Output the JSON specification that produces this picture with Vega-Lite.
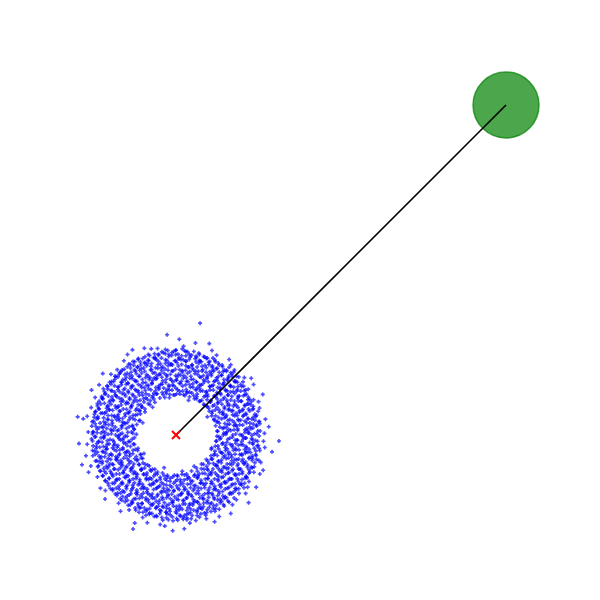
{
"$schema": "https://vega.github.io/schema/vega-lite/v6.json",
"width": 600, "height": 600,
"autosize": {"type": "fit", "contains": "padding"},
"padding": 0,
"background": "white",
"config": {"view": {"stroke": null}},
"encoding": {
  "x": {"field": "x", "type": "quantitative", "scale": {"domain": [-5.333, 12.848], "nice": false, "zero": false}, "axis": null},
  "y": {"field": "y", "type": "quantitative", "scale": {"domain": [-5, 13.182], "nice": false, "zero": false}, "axis": null}
},
"layer": [
{
"data": {"values": [
{"x":-2.53,"y":0.03},{"x":-2.44,"y":-0.05},{"x":-2.27,"y":0.06},{"x":-2.17,"y":-0.01},{"x":-1.96,"y":0.04},{"x":-1.76,"y":-0.06},{"x":-1.69,"y":0.02},{"x":-1.54,"y":-0.03},{"x":-1.31,"y":0.05},{"x":1.24,"y":-0.04},{"x":1.43,"y":0.0},{"x":1.52,"y":0.07},{"x":1.71,"y":-0.07},{"x":1.81,"y":0.03},{"x":2.03,"y":-0.05},{"x":2.22,"y":0.06},{"x":2.30,"y":-0.01},{"x":2.45,"y":0.04},
{"x":-2.52,"y":0.09},{"x":-2.39,"y":0.17},{"x":-2.21,"y":0.11},{"x":-2.10,"y":0.20},{"x":-1.95,"y":0.13},{"x":-1.74,"y":0.15},{"x":-1.65,"y":0.21},{"x":-1.46,"y":0.08},{"x":-1.27,"y":0.18},{"x":1.25,"y":0.12},{"x":1.45,"y":0.22},{"x":1.55,"y":0.10},{"x":1.76,"y":0.16},{"x":1.87,"y":0.19},{"x":2.09,"y":0.08},{"x":2.17,"y":0.14},{"x":2.33,"y":0.21},{"x":2.55,"y":0.12},
{"x":-2.56,"y":-0.12},{"x":-2.34,"y":-0.19},{"x":-2.19,"y":-0.09},{"x":-2.08,"y":-0.17},{"x":-1.88,"y":-0.21},{"x":-1.72,"y":-0.11},{"x":-1.61,"y":-0.15},{"x":-1.40,"y":-0.20},{"x":-1.26,"y":-0.08},{"x":1.23,"y":-0.18},{"x":1.33,"y":-0.13},{"x":1.54,"y":-0.22},{"x":1.63,"y":-0.10},{"x":1.86,"y":-0.16},{"x":1.99,"y":-0.20},{"x":2.11,"y":-0.09},{"x":2.32,"y":-0.14},{"x":2.47,"y":-0.19},
{"x":-2.55,"y":0.27},{"x":-2.45,"y":0.34},{"x":-2.24,"y":0.25},{"x":-2.15,"y":0.31},{"x":-1.93,"y":0.36},{"x":-1.84,"y":0.24},{"x":-1.62,"y":0.29},{"x":-1.53,"y":0.35},{"x":-1.32,"y":0.26},{"x":-1.19,"y":0.32},{"x":1.20,"y":0.28},{"x":1.31,"y":0.36},{"x":1.52,"y":0.23},{"x":1.62,"y":0.33},{"x":1.83,"y":0.27},{"x":1.93,"y":0.31},{"x":2.14,"y":0.37},{"x":2.24,"y":0.25},{"x":2.44,"y":0.30},{"x":2.54,"y":0.34},
{"x":-2.51,"y":-0.33},{"x":-2.40,"y":-0.26},{"x":-2.20,"y":-0.35},{"x":-2.09,"y":-0.28},{"x":-1.89,"y":-0.31},{"x":-1.78,"y":-0.37},{"x":-1.58,"y":-0.24},{"x":-1.48,"y":-0.32},{"x":-1.26,"y":-0.29},{"x":1.19,"y":-0.34},{"x":1.40,"y":-0.27},{"x":1.50,"y":-0.31},{"x":1.71,"y":-0.36},{"x":1.81,"y":-0.25},{"x":2.03,"y":-0.30},{"x":2.12,"y":-0.35},{"x":2.33,"y":-0.28},{"x":2.49,"y":-0.32},
{"x":-2.50,"y":0.42},{"x":-2.40,"y":0.49},{"x":-2.19,"y":0.40},{"x":-2.05,"y":0.47},{"x":-1.94,"y":0.44},{"x":-1.73,"y":0.51},{"x":-1.62,"y":0.39},{"x":-1.42,"y":0.46},{"x":-1.31,"y":0.50},{"x":-1.12,"y":0.43},{"x":1.15,"y":0.48},{"x":1.26,"y":0.41},{"x":1.47,"y":0.52},{"x":1.57,"y":0.44},{"x":1.77,"y":0.38},{"x":1.88,"y":0.47},{"x":2.09,"y":0.42},{"x":2.19,"y":0.50},{"x":2.39,"y":0.45},{"x":2.50,"y":0.40},
{"x":-2.53,"y":-0.47},{"x":-2.42,"y":-0.41},{"x":-2.23,"y":-0.50},{"x":-2.12,"y":-0.44},{"x":-1.92,"y":-0.39},{"x":-1.81,"y":-0.48},{"x":-1.61,"y":-0.43},{"x":-1.50,"y":-0.51},{"x":-1.30,"y":-0.46},{"x":-1.15,"y":-0.40},{"x":1.18,"y":-0.49},{"x":1.29,"y":-0.42},{"x":1.50,"y":-0.47},{"x":1.60,"y":-0.52},{"x":1.80,"y":-0.41},{"x":1.91,"y":-0.45},{"x":2.12,"y":-0.50},{"x":2.22,"y":-0.43},{"x":2.42,"y":-0.48},{"x":2.52,"y":-0.40},
{"x":-2.47,"y":0.63},{"x":-2.37,"y":0.56},{"x":-2.16,"y":0.65},{"x":-2.06,"y":0.59},{"x":-1.85,"y":0.54},{"x":-1.75,"y":0.62},{"x":-1.54,"y":0.57},{"x":-1.44,"y":0.66},{"x":-1.23,"y":0.60},{"x":-1.08,"y":0.64},{"x":1.09,"y":0.66},{"x":1.20,"y":0.58},{"x":1.41,"y":0.63},{"x":1.51,"y":0.55},{"x":1.72,"y":0.61},{"x":1.82,"y":0.66},{"x":2.03,"y":0.57},{"x":2.13,"y":0.62},{"x":2.34,"y":0.54},{"x":2.44,"y":0.60},
{"x":-2.44,"y":-0.58},{"x":-2.33,"y":-0.64},{"x":-2.13,"y":-0.55},{"x":-2.02,"y":-0.61},{"x":-1.82,"y":-0.66},{"x":-1.71,"y":-0.57},{"x":-1.51,"y":-0.62},{"x":-1.40,"y":-0.56},{"x":-1.20,"y":-0.65},{"x":-1.06,"y":-0.59},{"x":1.06,"y":-0.63},{"x":1.17,"y":-0.57},{"x":1.38,"y":-0.54},{"x":1.48,"y":-0.62},{"x":1.69,"y":-0.67},{"x":1.79,"y":-0.58},{"x":2.00,"y":-0.61},{"x":2.10,"y":-0.55},{"x":2.31,"y":-0.64},{"x":2.41,"y":-0.59},
{"x":-2.43,"y":0.72},{"x":-2.33,"y":0.79},{"x":-2.12,"y":0.70},{"x":-2.02,"y":0.77},{"x":-1.81,"y":0.81},{"x":-1.71,"y":0.73},{"x":-1.50,"y":0.78},{"x":-1.40,"y":0.71},{"x":-1.19,"y":0.80},{"x":-1.09,"y":0.74},{"x":-0.94,"y":0.79},{"x":0.99,"y":0.81},{"x":1.10,"y":0.72},{"x":1.30,"y":0.77},{"x":1.41,"y":0.70},{"x":1.61,"y":0.79},{"x":1.72,"y":0.74},{"x":1.92,"y":0.69},{"x":2.03,"y":0.78},{"x":2.23,"y":0.73},{"x":2.34,"y":0.80},
{"x":-2.40,"y":-0.78},{"x":-2.29,"y":-0.71},{"x":-2.09,"y":-0.80},{"x":-1.98,"y":-0.74},{"x":-1.78,"y":-0.69},{"x":-1.67,"y":-0.77},{"x":-1.47,"y":-0.72},{"x":-1.36,"y":-0.81},{"x":-1.16,"y":-0.75},{"x":-1.05,"y":-0.70},{"x":0.96,"y":-0.79},{"x":1.07,"y":-0.73},{"x":1.28,"y":-0.81},{"x":1.38,"y":-0.76},{"x":1.59,"y":-0.70},{"x":1.69,"y":-0.78},{"x":1.90,"y":-0.73},{"x":2.00,"y":-0.80},{"x":2.21,"y":-0.71},{"x":2.31,"y":-0.77},{"x":2.44,"y":-0.74},
{"x":-2.38,"y":0.88},{"x":-2.28,"y":0.94},{"x":-2.07,"y":0.86},{"x":-1.97,"y":0.93},{"x":-1.76,"y":0.84},{"x":-1.66,"y":0.91},{"x":-1.45,"y":0.96},{"x":-1.35,"y":0.87},{"x":-1.14,"y":0.92},{"x":-1.04,"y":0.85},{"x":-0.84,"y":0.95},{"x":0.84,"y":0.93},{"x":0.95,"y":0.86},{"x":1.16,"y":0.91},{"x":1.26,"y":0.97},{"x":1.47,"y":0.85},{"x":1.57,"y":0.90},{"x":1.78,"y":0.94},{"x":1.88,"y":0.83},{"x":2.09,"y":0.89},{"x":2.19,"y":0.95},{"x":2.34,"y":0.87},
{"x":-2.35,"y":-0.93},{"x":-2.24,"y":-0.86},{"x":-2.04,"y":-0.95},{"x":-1.93,"y":-0.88},{"x":-1.73,"y":-0.84},{"x":-1.62,"y":-0.92},{"x":-1.42,"y":-0.87},{"x":-1.31,"y":-0.96},{"x":-1.11,"y":-0.90},{"x":-1.00,"y":-0.85},{"x":-0.81,"y":-0.94},{"x":0.83,"y":-0.89},{"x":0.93,"y":-0.95},{"x":1.13,"y":-0.86},{"x":1.24,"y":-0.92},{"x":1.44,"y":-0.97},{"x":1.55,"y":-0.88},{"x":1.75,"y":-0.84},{"x":1.86,"y":-0.93},{"x":2.06,"y":-0.87},{"x":2.17,"y":-0.91},{"x":2.37,"y":-0.96},
{"x":-2.33,"y":1.02},{"x":-2.22,"y":1.09},{"x":-2.02,"y":1.00},{"x":-1.91,"y":1.07},{"x":-1.71,"y":1.11},{"x":-1.60,"y":1.03},{"x":-1.40,"y":1.08},{"x":-1.29,"y":0.99},{"x":-1.09,"y":1.05},{"x":-0.98,"y":1.10},{"x":-0.78,"y":1.04},{"x":-0.67,"y":1.09},{"x":0.62,"y":1.10},{"x":0.73,"y":1.03},{"x":0.94,"y":1.07},{"x":1.04,"y":1.00},{"x":1.25,"y":1.09},{"x":1.35,"y":1.04},{"x":1.56,"y":0.98},{"x":1.66,"y":1.06},{"x":1.87,"y":1.11},{"x":1.97,"y":1.02},{"x":2.18,"y":1.07},{"x":2.28,"y":1.01},
{"x":-2.30,"y":-1.08},{"x":-2.19,"y":-1.01},{"x":-1.99,"y":-1.10},{"x":-1.88,"y":-1.03},{"x":-1.68,"y":-0.99},{"x":-1.57,"y":-1.07},{"x":-1.37,"y":-1.02},{"x":-1.26,"y":-1.11},{"x":-1.06,"y":-1.05},{"x":-0.95,"y":-1.00},{"x":-0.75,"y":-1.09},{"x":-0.64,"y":-1.04},{"x":0.65,"y":-1.10},{"x":0.77,"y":-1.02},{"x":0.97,"y":-1.07},{"x":1.08,"y":-1.12},{"x":1.28,"y":-1.01},{"x":1.39,"y":-1.06},{"x":1.59,"y":-1.00},{"x":1.70,"y":-1.08},{"x":1.90,"y":-1.03},{"x":2.01,"y":-1.11},{"x":2.21,"y":-1.05},{"x":2.31,"y":-0.99},
{"x":-2.25,"y":1.17},{"x":-2.15,"y":1.24},{"x":-1.94,"y":1.15},{"x":-1.84,"y":1.22},{"x":-1.63,"y":1.26},{"x":-1.53,"y":1.18},{"x":-1.32,"y":1.23},{"x":-1.22,"y":1.14},{"x":-1.01,"y":1.20},{"x":-0.91,"y":1.25},{"x":-0.70,"y":1.19},{"x":-0.60,"y":1.24},{"x":-0.39,"y":1.22},{"x":-0.29,"y":1.26},{"x":-0.08,"y":1.21},{"x":0.02,"y":1.25},{"x":0.23,"y":1.22},{"x":0.33,"y":1.27},{"x":0.54,"y":1.19},{"x":0.64,"y":1.24},{"x":0.85,"y":1.16},{"x":0.95,"y":1.23},{"x":1.16,"y":1.18},{"x":1.26,"y":1.25},{"x":1.47,"y":1.14},{"x":1.57,"y":1.21},{"x":1.78,"y":1.26},{"x":1.88,"y":1.17},{"x":2.09,"y":1.22},{"x":2.19,"y":1.15},
{"x":-2.22,"y":-1.23},{"x":-2.12,"y":-1.16},{"x":-1.91,"y":-1.25},{"x":-1.81,"y":-1.18},{"x":-1.60,"y":-1.14},{"x":-1.50,"y":-1.22},{"x":-1.29,"y":-1.17},{"x":-1.19,"y":-1.26},{"x":-0.98,"y":-1.20},{"x":-0.88,"y":-1.15},{"x":-0.67,"y":-1.24},{"x":-0.57,"y":-1.19},{"x":-0.36,"y":-1.23},{"x":-0.26,"y":-1.27},{"x":-0.05,"y":-1.22},{"x":0.05,"y":-1.25},{"x":0.26,"y":-1.21},{"x":0.36,"y":-1.26},{"x":0.57,"y":-1.20},{"x":0.67,"y":-1.24},{"x":0.88,"y":-1.17},{"x":0.98,"y":-1.22},{"x":1.19,"y":-1.15},{"x":1.29,"y":-1.25},{"x":1.50,"y":-1.19},{"x":1.60,"y":-1.14},{"x":1.81,"y":-1.23},{"x":1.91,"y":-1.18},{"x":2.12,"y":-1.26},{"x":2.21,"y":-1.16},
{"x":-2.17,"y":1.32},{"x":-2.07,"y":1.39},{"x":-1.86,"y":1.30},{"x":-1.76,"y":1.37},{"x":-1.55,"y":1.41},{"x":-1.45,"y":1.33},{"x":-1.24,"y":1.38},{"x":-1.14,"y":1.29},{"x":-0.93,"y":1.35},{"x":-0.83,"y":1.40},{"x":-0.62,"y":1.34},{"x":-0.52,"y":1.39},{"x":-0.31,"y":1.31},{"x":-0.21,"y":1.36},{"x":0.00,"y":1.42},{"x":0.10,"y":1.33},{"x":0.31,"y":1.38},{"x":0.41,"y":1.30},{"x":0.62,"y":1.37},{"x":0.72,"y":1.41},{"x":0.93,"y":1.32},{"x":1.03,"y":1.36},{"x":1.24,"y":1.29},{"x":1.34,"y":1.39},{"x":1.55,"y":1.34},{"x":1.65,"y":1.30},{"x":1.86,"y":1.38},{"x":1.96,"y":1.33},{"x":2.11,"y":1.36},
{"x":-2.14,"y":-1.38},{"x":-2.03,"y":-1.31},{"x":-1.83,"y":-1.40},{"x":-1.72,"y":-1.33},{"x":-1.52,"y":-1.29},{"x":-1.41,"y":-1.37},{"x":-1.21,"y":-1.32},{"x":-1.10,"y":-1.41},{"x":-0.90,"y":-1.35},{"x":-0.79,"y":-1.30},{"x":-0.59,"y":-1.39},{"x":-0.48,"y":-1.34},{"x":-0.28,"y":-1.38},{"x":-0.17,"y":-1.31},{"x":0.03,"y":-1.36},{"x":0.14,"y":-1.42},{"x":0.34,"y":-1.33},{"x":0.45,"y":-1.39},{"x":0.65,"y":-1.30},{"x":0.76,"y":-1.37},{"x":0.96,"y":-1.32},{"x":1.07,"y":-1.40},{"x":1.27,"y":-1.34},{"x":1.38,"y":-1.29},{"x":1.58,"y":-1.38},{"x":1.69,"y":-1.33},{"x":1.89,"y":-1.41},{"x":2.00,"y":-1.35},{"x":2.15,"y":-1.30},
{"x":-2.07,"y":1.47},{"x":-1.97,"y":1.54},{"x":-1.76,"y":1.45},{"x":-1.66,"y":1.52},{"x":-1.45,"y":1.56},{"x":-1.35,"y":1.48},{"x":-1.14,"y":1.53},{"x":-1.04,"y":1.44},{"x":-0.83,"y":1.50},{"x":-0.73,"y":1.55},{"x":-0.52,"y":1.49},{"x":-0.42,"y":1.54},{"x":-0.21,"y":1.46},{"x":-0.11,"y":1.51},{"x":0.10,"y":1.57},{"x":0.20,"y":1.48},{"x":0.41,"y":1.53},{"x":0.51,"y":1.45},{"x":0.72,"y":1.52},{"x":0.82,"y":1.56},{"x":1.03,"y":1.47},{"x":1.13,"y":1.51},{"x":1.34,"y":1.44},{"x":1.44,"y":1.54},{"x":1.65,"y":1.49},{"x":1.75,"y":1.45},{"x":1.96,"y":1.53},{"x":2.05,"y":1.48},
{"x":-2.04,"y":-1.53},{"x":-1.93,"y":-1.46},{"x":-1.73,"y":-1.55},{"x":-1.62,"y":-1.48},{"x":-1.42,"y":-1.44},{"x":-1.31,"y":-1.52},{"x":-1.11,"y":-1.47},{"x":-1.00,"y":-1.56},{"x":-0.80,"y":-1.50},{"x":-0.69,"y":-1.45},{"x":-0.49,"y":-1.54},{"x":-0.38,"y":-1.49},{"x":-0.18,"y":-1.53},{"x":-0.07,"y":-1.46},{"x":0.13,"y":-1.51},{"x":0.24,"y":-1.57},{"x":0.44,"y":-1.48},{"x":0.55,"y":-1.54},{"x":0.75,"y":-1.45},{"x":0.86,"y":-1.52},{"x":1.06,"y":-1.47},{"x":1.17,"y":-1.55},{"x":1.37,"y":-1.49},{"x":1.48,"y":-1.44},{"x":1.68,"y":-1.53},{"x":1.79,"y":-1.48},{"x":1.99,"y":-1.52},{"x":2.08,"y":-1.46},
{"x":-1.95,"y":1.62},{"x":-1.85,"y":1.69},{"x":-1.64,"y":1.60},{"x":-1.54,"y":1.67},{"x":-1.33,"y":1.71},{"x":-1.23,"y":1.63},{"x":-1.02,"y":1.68},{"x":-0.92,"y":1.59},{"x":-0.71,"y":1.65},{"x":-0.61,"y":1.70},{"x":-0.40,"y":1.64},{"x":-0.30,"y":1.69},{"x":-0.09,"y":1.61},{"x":0.01,"y":1.66},{"x":0.22,"y":1.72},{"x":0.32,"y":1.63},{"x":0.53,"y":1.68},{"x":0.63,"y":1.60},{"x":0.84,"y":1.67},{"x":0.94,"y":1.71},{"x":1.15,"y":1.62},{"x":1.25,"y":1.66},{"x":1.46,"y":1.59},{"x":1.56,"y":1.69},{"x":1.77,"y":1.64},{"x":1.86,"y":1.60},
{"x":-1.92,"y":-1.68},{"x":-1.81,"y":-1.61},{"x":-1.61,"y":-1.70},{"x":-1.50,"y":-1.63},{"x":-1.30,"y":-1.59},{"x":-1.19,"y":-1.67},{"x":-0.99,"y":-1.62},{"x":-0.88,"y":-1.71},{"x":-0.68,"y":-1.65},{"x":-0.57,"y":-1.60},{"x":-0.37,"y":-1.69},{"x":-0.26,"y":-1.64},{"x":-0.06,"y":-1.68},{"x":0.05,"y":-1.61},{"x":0.25,"y":-1.66},{"x":0.36,"y":-1.72},{"x":0.56,"y":-1.63},{"x":0.67,"y":-1.69},{"x":0.87,"y":-1.60},{"x":0.98,"y":-1.67},{"x":1.18,"y":-1.62},{"x":1.29,"y":-1.70},{"x":1.49,"y":-1.64},{"x":1.60,"y":-1.59},{"x":1.80,"y":-1.68},{"x":1.90,"y":-1.63},
{"x":-1.82,"y":1.77},{"x":-1.72,"y":1.84},{"x":-1.51,"y":1.75},{"x":-1.41,"y":1.82},{"x":-1.20,"y":1.86},{"x":-1.10,"y":1.78},{"x":-0.89,"y":1.83},{"x":-0.79,"y":1.74},{"x":-0.58,"y":1.80},{"x":-0.48,"y":1.85},{"x":-0.27,"y":1.79},{"x":-0.17,"y":1.84},{"x":0.04,"y":1.76},{"x":0.14,"y":1.81},{"x":0.35,"y":1.87},{"x":0.45,"y":1.78},{"x":0.66,"y":1.83},{"x":0.76,"y":1.75},{"x":0.97,"y":1.82},{"x":1.07,"y":1.86},{"x":1.28,"y":1.77},{"x":1.38,"y":1.81},{"x":1.59,"y":1.74},{"x":1.69,"y":1.84},{"x":1.83,"y":1.78},
{"x":-1.79,"y":-1.83},{"x":-1.68,"y":-1.76},{"x":-1.48,"y":-1.85},{"x":-1.37,"y":-1.78},{"x":-1.17,"y":-1.74},{"x":-1.06,"y":-1.82},{"x":-0.86,"y":-1.77},{"x":-0.75,"y":-1.86},{"x":-0.55,"y":-1.80},{"x":-0.44,"y":-1.75},{"x":-0.24,"y":-1.84},{"x":-0.13,"y":-1.79},{"x":0.07,"y":-1.83},{"x":0.18,"y":-1.76},{"x":0.38,"y":-1.81},{"x":0.49,"y":-1.87},{"x":0.69,"y":-1.78},{"x":0.80,"y":-1.84},{"x":1.00,"y":-1.75},{"x":1.11,"y":-1.82},{"x":1.31,"y":-1.77},{"x":1.42,"y":-1.85},{"x":1.62,"y":-1.79},{"x":1.73,"y":-1.74},
{"x":-1.67,"y":1.92},{"x":-1.57,"y":1.99},{"x":-1.36,"y":1.90},{"x":-1.26,"y":1.97},{"x":-1.05,"y":2.01},{"x":-0.95,"y":1.93},{"x":-0.74,"y":1.98},{"x":-0.64,"y":1.89},{"x":-0.43,"y":1.95},{"x":-0.33,"y":2.00},{"x":-0.12,"y":1.94},{"x":-0.02,"y":1.99},{"x":0.19,"y":1.91},{"x":0.29,"y":1.96},{"x":0.50,"y":2.02},{"x":0.60,"y":1.93},{"x":0.81,"y":1.98},{"x":0.91,"y":1.90},{"x":1.12,"y":1.97},{"x":1.22,"y":2.01},{"x":1.43,"y":1.92},{"x":1.53,"y":1.96},{"x":1.66,"y":1.89},
{"x":-1.64,"y":-1.98},{"x":-1.53,"y":-1.91},{"x":-1.33,"y":-2.00},{"x":-1.22,"y":-1.93},{"x":-1.02,"y":-1.89},{"x":-0.91,"y":-1.97},{"x":-0.71,"y":-1.92},{"x":-0.60,"y":-2.01},{"x":-0.40,"y":-1.95},{"x":-0.29,"y":-1.90},{"x":-0.09,"y":-1.99},{"x":0.02,"y":-1.94},{"x":0.22,"y":-1.98},{"x":0.33,"y":-1.91},{"x":0.53,"y":-1.96},{"x":0.64,"y":-2.02},{"x":0.84,"y":-1.93},{"x":0.95,"y":-1.99},{"x":1.15,"y":-1.90},{"x":1.26,"y":-1.97},{"x":1.46,"y":-1.92},{"x":1.57,"y":-2.00},
{"x":-1.48,"y":2.07},{"x":-1.38,"y":2.14},{"x":-1.17,"y":2.05},{"x":-1.07,"y":2.12},{"x":-0.86,"y":2.16},{"x":-0.76,"y":2.08},{"x":-0.55,"y":2.13},{"x":-0.45,"y":2.04},{"x":-0.24,"y":2.10},{"x":-0.14,"y":2.15},{"x":0.07,"y":2.09},{"x":0.17,"y":2.14},{"x":0.38,"y":2.06},{"x":0.48,"y":2.11},{"x":0.69,"y":2.17},{"x":0.79,"y":2.08},{"x":1.00,"y":2.13},{"x":1.10,"y":2.05},{"x":1.31,"y":2.12},{"x":1.41,"y":2.07},
{"x":-1.45,"y":-2.13},{"x":-1.34,"y":-2.06},{"x":-1.14,"y":-2.15},{"x":-1.03,"y":-2.08},{"x":-0.83,"y":-2.04},{"x":-0.72,"y":-2.12},{"x":-0.52,"y":-2.07},{"x":-0.41,"y":-2.16},{"x":-0.21,"y":-2.10},{"x":-0.10,"y":-2.05},{"x":0.10,"y":-2.14},{"x":0.21,"y":-2.09},{"x":0.41,"y":-2.13},{"x":0.52,"y":-2.06},{"x":0.72,"y":-2.11},{"x":0.83,"y":-2.17},{"x":1.03,"y":-2.08},{"x":1.14,"y":-2.14},{"x":1.34,"y":-2.05},{"x":1.44,"y":-2.11},
{"x":-1.25,"y":2.22},{"x":-1.15,"y":2.29},{"x":-0.94,"y":2.20},{"x":-0.84,"y":2.27},{"x":-0.63,"y":2.31},{"x":-0.53,"y":2.23},{"x":-0.32,"y":2.28},{"x":-0.22,"y":2.19},{"x":-0.01,"y":2.25},{"x":0.09,"y":2.30},{"x":0.30,"y":2.24},{"x":0.40,"y":2.29},{"x":0.61,"y":2.21},{"x":0.71,"y":2.26},{"x":0.92,"y":2.32},{"x":1.02,"y":2.23},{"x":1.18,"y":2.27},
{"x":-1.22,"y":-2.28},{"x":-1.11,"y":-2.21},{"x":-0.91,"y":-2.30},{"x":-0.80,"y":-2.23},{"x":-0.60,"y":-2.19},{"x":-0.49,"y":-2.27},{"x":-0.29,"y":-2.22},{"x":-0.18,"y":-2.31},{"x":0.02,"y":-2.25},{"x":0.13,"y":-2.20},{"x":0.33,"y":-2.29},{"x":0.44,"y":-2.24},{"x":0.64,"y":-2.28},{"x":0.75,"y":-2.21},{"x":0.95,"y":-2.26},{"x":1.06,"y":-2.32},{"x":1.20,"y":-2.23},
{"x":-0.94,"y":2.37},{"x":-0.84,"y":2.44},{"x":-0.63,"y":2.35},{"x":-0.53,"y":2.42},{"x":-0.32,"y":2.46},{"x":-0.22,"y":2.38},{"x":-0.01,"y":2.43},{"x":0.09,"y":2.34},{"x":0.30,"y":2.40},{"x":0.40,"y":2.45},{"x":0.61,"y":2.39},{"x":0.71,"y":2.44},{"x":0.87,"y":2.36},
{"x":-0.91,"y":-2.43},{"x":-0.80,"y":-2.36},{"x":-0.60,"y":-2.45},{"x":-0.49,"y":-2.38},{"x":-0.29,"y":-2.34},{"x":-0.18,"y":-2.42},{"x":0.02,"y":-2.37},{"x":0.13,"y":-2.46},{"x":0.33,"y":-2.40},{"x":0.44,"y":-2.35},{"x":0.64,"y":-2.44},{"x":0.75,"y":-2.39},{"x":0.90,"y":-2.43},
{"x":-0.43,"y":2.52},{"x":-0.32,"y":2.59},{"x":-0.12,"y":2.50},{"x":-0.01,"y":2.57},{"x":0.19,"y":2.61},{"x":0.30,"y":2.53},
{"x":-0.40,"y":-2.58},{"x":-0.29,"y":-2.51},{"x":-0.09,"y":-2.60},{"x":0.02,"y":-2.53},{"x":0.22,"y":-2.49},{"x":0.33,"y":-2.57},{"x":0.46,"y":-2.54},
{"x":2.71,"y":0.48},{"x":2.63,"y":1.23},{"x":2.07,"y":1.74},{"x":1.61,"y":2.29},{"x":1.01,"y":2.77},{"x":0.23,"y":2.69},{"x":0.73,"y":3.39},{"x":-0.27,"y":3.04},{"x":-0.96,"y":2.63},{"x":-1.58,"y":2.25},{"x":-2.22,"y":1.86},{"x":-2.45,"y":1.14},{"x":-2.81,"y":0.49},{"x":-2.94,"y":-0.26},{"x":-2.58,"y":-0.94},{"x":-2.29,"y":-1.61},{"x":-1.74,"y":-2.07},{"x":-1.25,"y":-2.67},{"x":-0.48,"y":-2.71},{"x":0.25,"y":-2.84},{"x":0.92,"y":-2.54},{"x":1.66,"y":-2.38},{"x":2.11,"y":-1.77},{"x":2.54,"y":-1.18},{"x":2.91,"y":-0.51},
{"x":2.68,"y":0.05},{"x":2.53,"y":0.82},{"x":2.35,"y":1.53},{"x":1.77,"y":1.97},{"x":1.23,"y":2.42},{"x":0.59,"y":2.79},{"x":-0.56,"y":2.62},{"x":-1.32,"y":2.58},{"x":-1.78,"y":1.98},{"x":-2.33,"y":1.52},{"x":-2.57,"y":0.83},{"x":-2.66,"y":0.09},{"x":-2.73,"y":-0.63},{"x":-2.38,"y":-1.27},{"x":-2.15,"y":-1.94},{"x":-1.42,"y":-2.27},{"x":-0.87,"y":-2.66},{"x":-0.10,"y":-2.90},{"x":0.60,"y":-2.59},{"x":1.31,"y":-2.47},{"x":1.83,"y":-1.96},{"x":2.43,"y":-1.58},{"x":2.57,"y":-0.83},{"x":2.65,"y":-0.19},
{"x":3.12,"y":-0.18},{"x":-2.98,"y":0.55},{"x":-1.30,"y":-2.85},{"x":2.20,"y":-2.05},{"x":-2.85,"y":-0.90},
{"x":0.95,"y":0.55},{"x":-0.20,"y":1.13},{"x":-1.01,"y":0.37},{"x":-0.97,"y":-0.56},{"x":-0.36,"y":-0.99},{"x":0.55,"y":-0.95},{"x":1.08,"y":-0.39},{"x":0.38,"y":1.05},{"x":-0.71,"y":0.84},{"x":0.19,"y":-1.10},
{"x":2.81,"y":0.25},{"x":2.50,"y":1.01},{"x":2.28,"y":1.72},{"x":1.66,"y":2.13},{"x":1.09,"y":2.56},{"x":0.10,"y":2.90},{"x":-0.75,"y":2.61},{"x":-1.47,"y":2.44},{"x":-1.97,"y":1.84},{"x":-2.56,"y":1.36},{"x":-2.69,"y":0.57},{"x":-2.69,"y":-0.28},{"x":-2.65,"y":-1.13},{"x":-2.14,"y":-1.68},{"x":-1.68,"y":-2.31},{"x":-1.01,"y":-2.50},{"x":-0.34,"y":-2.76},{"x":0.42,"y":-2.67},{"x":1.17,"y":-2.63},{"x":1.71,"y":-2.11},{"x":2.17,"y":-1.58},{"x":2.64,"y":-1.07},{"x":2.69,"y":-0.38},
{"x":0.12,"y":1.24},{"x":0.05,"y":1.37},{"x":0.14,"y":1.56},{"x":0.01,"y":1.67},{"x":0.08,"y":1.84},{"x":0.11,"y":1.98},{"x":0.03,"y":2.19},{"x":0.15,"y":2.29},{"x":0.06,"y":2.45},{"x":0.0,"y":2.57},
{"x":0.04,"y":-1.22},{"x":0.13,"y":-1.35},{"x":0.02,"y":-1.54},{"x":0.10,"y":-1.65},{"x":0.14,"y":-1.82},{"x":0.07,"y":-1.96},{"x":0.01,"y":-2.17},{"x":0.09,"y":-2.27},{"x":0.12,"y":-2.43},{"x":0.05,"y":-2.58},
{"x":-0.03,"y":1.21},{"x":-0.12,"y":1.36},{"x":-0.06,"y":1.49},{"x":-0.14,"y":1.66},{"x":-0.01,"y":1.80},{"x":-0.09,"y":1.94},{"x":-0.11,"y":2.12},{"x":-0.04,"y":2.25},{"x":-0.13,"y":2.41},{"x":-0.07,"y":2.53},
{"x":-0.10,"y":-1.27},{"x":-0.02,"y":-1.41},{"x":-0.13,"y":-1.58},{"x":-0.07,"y":-1.70},{"x":-0.04,"y":-1.87},{"x":-0.12,"y":-2.04},{"x":-0.08,"y":-2.15},{"x":-0.01,"y":-2.33},{"x":-0.11,"y":-2.48},
{"x":0.27,"y":1.20},{"x":0.20,"y":1.33},{"x":0.29,"y":1.52},{"x":0.16,"y":1.63},{"x":0.24,"y":1.80},{"x":0.19,"y":1.95},{"x":0.30,"y":2.10},{"x":0.22,"y":2.28},{"x":0.17,"y":2.40},{"x":0.26,"y":2.55},
{"x":0.18,"y":-1.19},{"x":0.25,"y":-1.36},{"x":0.21,"y":-1.47},{"x":0.29,"y":-1.64},{"x":0.16,"y":-1.78},{"x":0.23,"y":-1.99},{"x":0.28,"y":-2.09},{"x":0.19,"y":-2.25},{"x":0.26,"y":-2.43},{"x":0.22,"y":-2.55},
{"x":-0.19,"y":1.23},{"x":-0.27,"y":1.38},{"x":-0.22,"y":1.51},{"x":-0.17,"y":1.70},{"x":-0.29,"y":1.82},{"x":-0.24,"y":1.96},{"x":-0.16,"y":2.13},{"x":-0.28,"y":2.26},{"x":-0.21,"y":2.44},{"x":-0.25,"y":2.56},
{"x":-0.26,"y":-1.22},{"x":-0.18,"y":-1.40},{"x":-0.29,"y":-1.52},{"x":-0.21,"y":-1.68},{"x":-0.24,"y":-1.81},{"x":-0.17,"y":-1.93},{"x":-0.28,"y":-2.14},{"x":-0.20,"y":-2.24},{"x":-0.27,"y":-2.39},{"x":-0.23,"y":-2.57},
{"x":0.41,"y":1.16},{"x":0.33,"y":1.31},{"x":0.44,"y":1.45},{"x":0.36,"y":1.62},{"x":0.31,"y":1.74},{"x":0.42,"y":1.92},{"x":0.38,"y":2.05},{"x":0.30,"y":2.23},{"x":0.43,"y":2.36},{"x":0.35,"y":2.52},
{"x":0.32,"y":-1.18},{"x":0.40,"y":-1.30},{"x":0.35,"y":-1.49},{"x":0.44,"y":-1.60},{"x":0.37,"y":-1.77},{"x":0.31,"y":-1.91},{"x":0.42,"y":-2.08},{"x":0.36,"y":-2.20},{"x":0.39,"y":-2.38},{"x":0.33,"y":-2.51},
{"x":-0.34,"y":1.14},{"x":-0.42,"y":1.29},{"x":-0.37,"y":1.42},{"x":-0.31,"y":1.59},{"x":-0.43,"y":1.75},{"x":-0.36,"y":1.87},{"x":-0.40,"y":2.06},{"x":-0.32,"y":2.17},{"x":-0.44,"y":2.33},{"x":-0.38,"y":2.49},
{"x":-0.41,"y":-1.15},{"x":-0.33,"y":-1.33},{"x":-0.44,"y":-1.44},{"x":-0.38,"y":-1.61},{"x":-0.30,"y":-1.73},{"x":-0.42,"y":-1.89},{"x":-0.35,"y":-2.05},{"x":-0.39,"y":-2.19},{"x":-0.31,"y":-2.34},{"x":-0.43,"y":-2.50},
{"x":0.56,"y":1.10},{"x":0.48,"y":1.27},{"x":0.59,"y":1.38},{"x":0.51,"y":1.55},{"x":0.46,"y":1.69},{"x":0.57,"y":1.86},{"x":0.53,"y":1.97},{"x":0.49,"y":2.13},{"x":0.58,"y":2.31},{"x":0.47,"y":2.42},{"x":0.54,"y":2.53},
{"x":0.47,"y":-1.09},{"x":0.55,"y":-1.24},{"x":0.50,"y":-1.40},{"x":0.59,"y":-1.53},{"x":0.52,"y":-1.68},{"x":0.46,"y":-1.82},{"x":0.57,"y":-2.01},{"x":0.51,"y":-2.12},{"x":0.54,"y":-2.28},{"x":0.49,"y":-2.44},
{"x":-0.49,"y":1.12},{"x":-0.57,"y":1.25},{"x":-0.52,"y":1.43},{"x":-0.46,"y":1.54},{"x":-0.58,"y":1.72},{"x":-0.51,"y":1.83},{"x":-0.55,"y":2.02},{"x":-0.47,"y":2.15},{"x":-0.59,"y":2.28},{"x":-0.53,"y":2.45},
{"x":-0.56,"y":-1.12},{"x":-0.48,"y":-1.28},{"x":-0.59,"y":-1.39},{"x":-0.53,"y":-1.57},{"x":-0.45,"y":-1.71},{"x":-0.57,"y":-1.85},{"x":-0.50,"y":-1.98},{"x":-0.54,"y":-2.16},{"x":-0.46,"y":-2.30},{"x":-0.58,"y":-2.47},
{"x":0.71,"y":1.02},{"x":0.63,"y":1.16},{"x":0.74,"y":1.33},{"x":0.66,"y":1.45},{"x":0.61,"y":1.61},{"x":0.72,"y":1.76},{"x":0.68,"y":1.93},{"x":0.64,"y":2.06},{"x":0.73,"y":2.24},{"x":0.62,"y":2.35},{"x":0.69,"y":2.48},
{"x":0.62,"y":-1.00},{"x":0.70,"y":-1.18},{"x":0.65,"y":-1.29},{"x":0.74,"y":-1.46},{"x":0.67,"y":-1.59},{"x":0.61,"y":-1.77},{"x":0.72,"y":-1.90},{"x":0.66,"y":-2.04},{"x":0.69,"y":-2.21},{"x":0.64,"y":-2.33},{"x":0.71,"y":-2.49},
{"x":-0.64,"y":0.99},{"x":-0.72,"y":1.14},{"x":-0.67,"y":1.27},{"x":-0.61,"y":1.44},{"x":-0.73,"y":1.58},{"x":-0.66,"y":1.73},{"x":-0.70,"y":1.88},{"x":-0.62,"y":2.04},{"x":-0.74,"y":2.17},{"x":-0.68,"y":2.34},{"x":-0.65,"y":2.46},
{"x":-0.71,"y":-1.04},{"x":-0.63,"y":-1.17},{"x":-0.74,"y":-1.33},{"x":-0.68,"y":-1.48},{"x":-0.60,"y":-1.62},{"x":-0.72,"y":-1.79},{"x":-0.65,"y":-1.91},{"x":-0.69,"y":-2.08},{"x":-0.61,"y":-2.22},{"x":-0.73,"y":-2.38},{"x":-0.66,"y":-2.47},
{"x":0.86,"y":0.90},{"x":0.78,"y":1.05},{"x":0.89,"y":1.19},{"x":0.81,"y":1.34},{"x":0.76,"y":1.51},{"x":0.87,"y":1.63},{"x":0.83,"y":1.80},{"x":0.79,"y":1.94},{"x":0.88,"y":2.11},{"x":0.77,"y":2.22},{"x":0.84,"y":2.38},
{"x":0.77,"y":-0.88},{"x":0.85,"y":-1.04},{"x":0.80,"y":-1.16},{"x":0.89,"y":-1.33},{"x":0.82,"y":-1.47},{"x":0.76,"y":-1.62},{"x":0.87,"y":-1.78},{"x":0.81,"y":-1.93},{"x":0.84,"y":-2.06},{"x":0.79,"y":-2.24},{"x":0.86,"y":-2.36},
{"x":-0.79,"y":0.92},{"x":-0.87,"y":1.08},{"x":-0.82,"y":1.21},{"x":-0.76,"y":1.37},{"x":-0.88,"y":1.50},{"x":-0.81,"y":1.68},{"x":-0.85,"y":1.79},{"x":-0.77,"y":1.97},{"x":-0.89,"y":2.10},{"x":-0.83,"y":2.25},{"x":-0.80,"y":2.41},
{"x":-0.86,"y":-0.91},{"x":-0.78,"y":-1.06},{"x":-0.89,"y":-1.22},{"x":-0.83,"y":-1.35},{"x":-0.75,"y":-1.52},{"x":-0.87,"y":-1.64},{"x":-0.80,"y":-1.81},{"x":-0.84,"y":-1.96},{"x":-0.76,"y":-2.11},{"x":-0.88,"y":-2.26},{"x":-0.81,"y":-2.40},
{"x":1.01,"y":0.72},{"x":0.93,"y":0.88},{"x":1.04,"y":1.01},{"x":0.96,"y":1.17},{"x":0.91,"y":1.30},{"x":1.02,"y":1.47},{"x":0.98,"y":1.61},{"x":0.94,"y":1.75},{"x":1.03,"y":1.92},{"x":0.92,"y":2.04},{"x":0.99,"y":2.20},{"x":0.95,"y":2.33},
{"x":0.92,"y":-0.74},{"x":1.00,"y":-0.86},{"x":0.95,"y":-1.03},{"x":1.04,"y":-1.15},{"x":0.97,"y":-1.32},{"x":0.91,"y":-1.46},{"x":1.02,"y":-1.59},{"x":0.96,"y":-1.77},{"x":0.99,"y":-1.89},{"x":0.94,"y":-2.05},{"x":1.01,"y":-2.19},{"x":0.93,"y":-2.35},
{"x":-0.94,"y":0.70},{"x":-1.02,"y":0.85},{"x":-0.97,"y":1.00},{"x":-0.91,"y":1.13},{"x":-1.03,"y":1.29},{"x":-0.96,"y":1.44},{"x":-1.00,"y":1.58},{"x":-0.92,"y":1.74},{"x":-1.04,"y":1.88},{"x":-0.98,"y":2.03},{"x":-0.95,"y":2.17},{"x":-1.01,"y":2.32},
{"x":-1.01,"y":-0.71},{"x":-0.93,"y":-0.89},{"x":-1.04,"y":-1.02},{"x":-0.98,"y":-1.18},{"x":-0.90,"y":-1.31},{"x":-1.02,"y":-1.49},{"x":-0.95,"y":-1.60},{"x":-0.99,"y":-1.76},{"x":-0.91,"y":-1.91},{"x":-1.03,"y":-2.07},{"x":-0.96,"y":-2.21},{"x":-1.00,"y":-2.34},
{"x":1.16,"y":0.45},{"x":1.08,"y":0.58},{"x":1.19,"y":0.76},{"x":1.11,"y":0.88},{"x":1.06,"y":1.05},{"x":1.17,"y":1.18},{"x":1.13,"y":1.36},{"x":1.09,"y":1.49},{"x":1.18,"y":1.64},{"x":1.07,"y":1.80},{"x":1.14,"y":1.93},{"x":1.10,"y":2.09},{"x":1.19,"y":2.22},{"x":1.12,"y":2.33},
{"x":1.07,"y":-0.43},{"x":1.15,"y":-0.61},{"x":1.10,"y":-0.73},{"x":1.19,"y":-0.91},{"x":1.12,"y":-1.03},{"x":1.06,"y":-1.20},{"x":1.17,"y":-1.33},{"x":1.11,"y":-1.47},{"x":1.14,"y":-1.65},{"x":1.09,"y":-1.77},{"x":1.16,"y":-1.94},{"x":1.08,"y":-2.06},{"x":1.13,"y":-2.23},{"x":1.18,"y":-2.31},
{"x":-1.09,"y":0.44},{"x":-1.17,"y":0.62},{"x":-1.12,"y":0.74},{"x":-1.06,"y":0.91},{"x":-1.18,"y":1.03},{"x":-1.11,"y":1.21},{"x":-1.15,"y":1.34},{"x":-1.07,"y":1.50},{"x":-1.19,"y":1.63},{"x":-1.13,"y":1.78},{"x":-1.10,"y":1.96},{"x":-1.16,"y":2.07},{"x":-1.08,"y":2.21},{"x":-1.14,"y":2.32},
{"x":-1.16,"y":-0.47},{"x":-1.08,"y":-0.59},{"x":-1.19,"y":-0.77},{"x":-1.13,"y":-0.89},{"x":-1.05,"y":-1.06},{"x":-1.17,"y":-1.19},{"x":-1.10,"y":-1.35},{"x":-1.14,"y":-1.51},{"x":-1.06,"y":-1.62},{"x":-1.18,"y":-1.81},{"x":-1.11,"y":-1.92},{"x":-1.15,"y":-2.08},{"x":-1.07,"y":-2.20},{"x":-1.12,"y":-2.34},
{"x":1.31,"y":-2.25},{"x":1.23,"y":-2.12},{"x":1.34,"y":-1.95},{"x":1.26,"y":-1.84},{"x":1.21,"y":-1.66},{"x":1.32,"y":-1.52},{"x":1.28,"y":-1.39},{"x":1.24,"y":-1.21},{"x":1.33,"y":-1.08},{"x":1.22,"y":-0.93},{"x":1.29,"y":-0.79},{"x":1.25,"y":-0.62},{"x":1.34,"y":-0.51},{"x":1.27,"y":-0.33},{"x":1.21,"y":-0.19},{"x":1.30,"y":-0.05},{"x":1.26,"y":0.11},{"x":1.33,"y":0.24},{"x":1.23,"y":0.40},{"x":1.29,"y":0.53},{"x":1.32,"y":0.69},{"x":1.24,"y":0.84},{"x":1.28,"y":0.98},{"x":1.21,"y":1.15},{"x":1.34,"y":1.27},{"x":1.26,"y":1.44},{"x":1.30,"y":1.57},{"x":1.23,"y":1.73},{"x":1.31,"y":1.90},{"x":1.25,"y":2.02},{"x":1.28,"y":2.18},
{"x":-1.24,"y":-2.21},{"x":-1.32,"y":-2.05},{"x":-1.27,"y":-1.93},{"x":-1.21,"y":-1.76},{"x":-1.33,"y":-1.63},{"x":-1.26,"y":-1.45},{"x":-1.30,"y":-1.33},{"x":-1.22,"y":-1.17},{"x":-1.34,"y":-1.02},{"x":-1.28,"y":-0.88},{"x":-1.25,"y":-0.72},{"x":-1.31,"y":-0.57},{"x":-1.23,"y":-0.44},{"x":-1.29,"y":-0.27},{"x":-1.33,"y":-0.13},{"x":-1.20,"y":0.02},{"x":-1.27,"y":0.17},{"x":-1.32,"y":0.29},{"x":-1.24,"y":0.46},{"x":-1.30,"y":0.60},{"x":-1.22,"y":0.75},{"x":-1.34,"y":0.90},{"x":-1.26,"y":1.06},{"x":-1.29,"y":1.19},{"x":-1.21,"y":1.35},{"x":-1.31,"y":1.49},{"x":-1.25,"y":1.66},{"x":-1.33,"y":1.79},{"x":-1.23,"y":1.94},{"x":-1.28,"y":2.11},{"x":-1.30,"y":2.23},
{"x":1.46,"y":-2.15},{"x":1.38,"y":-2.01},{"x":1.49,"y":-1.87},{"x":1.41,"y":-1.71},{"x":1.36,"y":-1.58},{"x":1.47,"y":-1.42},{"x":1.43,"y":-1.27},{"x":1.39,"y":-1.13},{"x":1.48,"y":-0.98},{"x":1.37,"y":-0.84},{"x":1.44,"y":-0.67},{"x":1.40,"y":-0.55},{"x":1.49,"y":-0.38},{"x":1.42,"y":-0.24},{"x":1.36,"y":-0.09},{"x":1.45,"y":0.06},{"x":1.41,"y":0.20},{"x":1.48,"y":0.35},{"x":1.38,"y":0.49},{"x":1.44,"y":0.64},{"x":1.47,"y":0.80},{"x":1.39,"y":0.93},{"x":1.43,"y":1.09},{"x":1.36,"y":1.23},{"x":1.49,"y":1.38},{"x":1.41,"y":1.53},{"x":1.45,"y":1.68},{"x":1.38,"y":1.81},{"x":1.46,"y":1.97},{"x":1.40,"y":2.12},
{"x":-1.39,"y":-2.12},{"x":-1.47,"y":-1.98},{"x":-1.42,"y":-1.82},{"x":-1.36,"y":-1.69},{"x":-1.48,"y":-1.53},{"x":-1.41,"y":-1.39},{"x":-1.45,"y":-1.24},{"x":-1.37,"y":-1.09},{"x":-1.49,"y":-0.95},{"x":-1.43,"y":-0.78},{"x":-1.40,"y":-0.64},{"x":-1.46,"y":-0.49},{"x":-1.38,"y":-0.35},{"x":-1.44,"y":-0.20},{"x":-1.48,"y":-0.04},{"x":-1.35,"y":0.09},{"x":-1.42,"y":0.25},{"x":-1.47,"y":0.38},{"x":-1.39,"y":0.54},{"x":-1.45,"y":0.68},{"x":-1.37,"y":0.83},{"x":-1.49,"y":0.99},{"x":-1.41,"y":1.12},{"x":-1.44,"y":1.28},{"x":-1.36,"y":1.42},{"x":-1.46,"y":1.58},{"x":-1.40,"y":1.72},{"x":-1.48,"y":1.87},{"x":-1.38,"y":2.03},{"x":-1.43,"y":2.15},
{"x":1.61,"y":-2.04},{"x":1.53,"y":-1.90},{"x":1.64,"y":-1.75},{"x":1.56,"y":-1.61},{"x":1.51,"y":-1.45},{"x":1.62,"y":-1.32},{"x":1.58,"y":-1.16},{"x":1.54,"y":-1.02},{"x":1.63,"y":-0.87},{"x":1.52,"y":-0.71},{"x":1.59,"y":-0.58},{"x":1.55,"y":-0.42},{"x":1.64,"y":-0.28},{"x":1.57,"y":-0.13},{"x":1.51,"y":0.02},{"x":1.60,"y":0.17},{"x":1.56,"y":0.31},{"x":1.63,"y":0.47},{"x":1.53,"y":0.60},{"x":1.59,"y":0.76},{"x":1.62,"y":0.91},{"x":1.54,"y":1.05},{"x":1.58,"y":1.21},{"x":1.51,"y":1.34},{"x":1.64,"y":1.50},{"x":1.56,"y":1.65},{"x":1.60,"y":1.79},{"x":1.53,"y":1.93},{"x":1.61,"y":2.05},
{"x":-1.54,"y":-2.02},{"x":-1.62,"y":-1.86},{"x":-1.57,"y":-1.73},{"x":-1.51,"y":-1.57},{"x":-1.63,"y":-1.43},{"x":-1.56,"y":-1.28},{"x":-1.60,"y":-1.14},{"x":-1.52,"y":-0.99},{"x":-1.64,"y":-0.83},{"x":-1.58,"y":-0.70},{"x":-1.55,"y":-0.54},{"x":-1.61,"y":-0.39},{"x":-1.53,"y":-0.25},{"x":-1.59,"y":-0.09},{"x":-1.63,"y":0.05},{"x":-1.50,"y":0.20},{"x":-1.57,"y":0.36},{"x":-1.62,"y":0.50},{"x":-1.54,"y":0.64},{"x":-1.60,"y":0.79},{"x":-1.52,"y":0.95},{"x":-1.64,"y":1.09},{"x":-1.56,"y":1.24},{"x":-1.59,"y":1.37},{"x":-1.51,"y":1.54},{"x":-1.61,"y":1.68},{"x":-1.55,"y":1.83},{"x":-1.63,"y":1.97},
{"x":1.76,"y":-1.91},{"x":1.68,"y":-1.78},{"x":1.79,"y":-1.62},{"x":1.71,"y":-1.49},{"x":1.66,"y":-1.33},{"x":1.77,"y":-1.19},{"x":1.73,"y":-1.04},{"x":1.69,"y":-0.90},{"x":1.78,"y":-0.74},{"x":1.67,"y":-0.60},{"x":1.74,"y":-0.46},{"x":1.70,"y":-0.30},{"x":1.79,"y":-0.16},{"x":1.72,"y":0.00},{"x":1.66,"y":0.14},{"x":1.75,"y":0.29},{"x":1.71,"y":0.43},{"x":1.78,"y":0.58},{"x":1.68,"y":0.73},{"x":1.74,"y":0.88},{"x":1.77,"y":1.03},{"x":1.69,"y":1.17},{"x":1.73,"y":1.32},{"x":1.66,"y":1.47},{"x":1.79,"y":1.61},{"x":1.71,"y":1.77},{"x":1.75,"y":1.91},
{"x":-1.69,"y":-1.93},{"x":-1.77,"y":-1.76},{"x":-1.72,"y":-1.64},{"x":-1.66,"y":-1.47},{"x":-1.78,"y":-1.35},{"x":-1.71,"y":-1.18},{"x":-1.75,"y":-1.05},{"x":-1.67,"y":-0.89},{"x":-1.79,"y":-0.76},{"x":-1.73,"y":-0.61},{"x":-1.70,"y":-0.45},{"x":-1.76,"y":-0.32},{"x":-1.68,"y":-0.15},{"x":-1.74,"y":-0.02},{"x":-1.78,"y":0.13},{"x":-1.65,"y":0.28},{"x":-1.72,"y":0.44},{"x":-1.77,"y":0.57},{"x":-1.69,"y":0.72},{"x":-1.75,"y":0.87},{"x":-1.67,"y":1.01},{"x":-1.79,"y":1.16},{"x":-1.71,"y":1.31},{"x":-1.74,"y":1.46},{"x":-1.66,"y":1.60},{"x":-1.76,"y":1.76},{"x":-1.70,"y":1.89},
{"x":1.91,"y":-1.77},{"x":1.83,"y":-1.62},{"x":1.94,"y":-1.49},{"x":1.86,"y":-1.33},{"x":1.81,"y":-1.19},{"x":1.92,"y":-1.04},{"x":1.88,"y":-0.88},{"x":1.84,"y":-0.75},{"x":1.93,"y":-0.59},{"x":1.82,"y":-0.45},{"x":1.89,"y":-0.31},{"x":1.85,"y":-0.15},{"x":1.94,"y":0.01},{"x":1.87,"y":0.14},{"x":1.81,"y":0.30},{"x":1.90,"y":0.44},{"x":1.86,"y":0.59},{"x":1.93,"y":0.73},{"x":1.83,"y":0.89},{"x":1.89,"y":1.03},{"x":1.92,"y":1.18},{"x":1.84,"y":1.33},{"x":1.88,"y":1.47},{"x":1.81,"y":1.63},{"x":1.90,"y":1.76},
{"x":-1.84,"y":-1.79},{"x":-1.92,"y":-1.64},{"x":-1.87,"y":-1.47},{"x":-1.81,"y":-1.35},{"x":-1.93,"y":-1.20},{"x":-1.86,"y":-1.03},{"x":-1.90,"y":-0.90},{"x":-1.82,"y":-0.74},{"x":-1.94,"y":-0.61},{"x":-1.88,"y":-0.44},{"x":-1.85,"y":-0.29},{"x":-1.91,"y":-0.16},{"x":-1.83,"y":0.00},{"x":-1.89,"y":0.15},{"x":-1.93,"y":0.29},{"x":-1.80,"y":0.46},{"x":-1.87,"y":0.58},{"x":-1.92,"y":0.75},{"x":-1.84,"y":0.88},{"x":-1.90,"y":1.04},{"x":-1.82,"y":1.19},{"x":-1.94,"y":1.34},{"x":-1.86,"y":1.49},{"x":-1.89,"y":1.62},{"x":-1.85,"y":1.78},
{"x":2.06,"y":-1.60},{"x":1.98,"y":-1.47},{"x":2.09,"y":-1.31},{"x":2.01,"y":-1.17},{"x":1.96,"y":-1.03},{"x":2.07,"y":-0.86},{"x":2.03,"y":-0.74},{"x":1.99,"y":-0.58},{"x":2.08,"y":-0.44},{"x":1.97,"y":-0.29},{"x":2.04,"y":-0.13},{"x":2.00,"y":0.00},{"x":2.09,"y":0.16},{"x":2.02,"y":0.30},{"x":1.96,"y":0.45},{"x":2.05,"y":0.60},{"x":2.01,"y":0.74},{"x":2.08,"y":0.90},{"x":1.98,"y":1.03},{"x":2.04,"y":1.19},{"x":2.07,"y":1.34},{"x":1.99,"y":1.47},{"x":2.03,"y":1.61},
{"x":-1.99,"y":-1.62},{"x":-2.07,"y":-1.45},{"x":-2.02,"y":-1.32},{"x":-1.96,"y":-1.16},{"x":-2.08,"y":-1.01},{"x":-2.01,"y":-0.88},{"x":-2.05,"y":-0.71},{"x":-1.97,"y":-0.57},{"x":-2.09,"y":-0.42},{"x":-2.03,"y":-0.27},{"x":-2.00,"y":-0.14},{"x":-2.06,"y":0.02},{"x":-1.98,"y":0.17},{"x":-2.04,"y":0.31},{"x":-2.08,"y":0.47},{"x":-1.95,"y":0.59},{"x":-2.02,"y":0.76},{"x":-2.07,"y":0.89},{"x":-1.99,"y":1.05},{"x":-2.05,"y":1.18},{"x":-1.97,"y":1.35},{"x":-2.09,"y":1.49},{"x":-2.01,"y":1.60},
{"x":2.21,"y":-1.41},{"x":2.13,"y":-1.26},{"x":2.24,"y":-1.12},{"x":2.16,"y":-0.97},{"x":2.11,"y":-0.82},{"x":2.22,"y":-0.68},{"x":2.18,"y":-0.52},{"x":2.14,"y":-0.39},{"x":2.23,"y":-0.23},{"x":2.12,"y":-0.09},{"x":2.19,"y":0.06},{"x":2.15,"y":0.20},{"x":2.24,"y":0.36},{"x":2.17,"y":0.49},{"x":2.11,"y":0.65},{"x":2.20,"y":0.79},{"x":2.16,"y":0.94},{"x":2.23,"y":1.08},{"x":2.13,"y":1.24},{"x":2.19,"y":1.39},
{"x":-2.14,"y":-1.39},{"x":-2.22,"y":-1.24},{"x":-2.17,"y":-1.10},{"x":-2.11,"y":-0.95},{"x":-2.23,"y":-0.80},{"x":-2.16,"y":-0.66},{"x":-2.20,"y":-0.51},{"x":-2.12,"y":-0.36},{"x":-2.24,"y":-0.22},{"x":-2.18,"y":-0.06},{"x":-2.15,"y":0.08},{"x":-2.21,"y":0.23},{"x":-2.13,"y":0.37},{"x":-2.19,"y":0.52},{"x":-2.23,"y":0.67},{"x":-2.10,"y":0.81},{"x":-2.17,"y":0.96},{"x":-2.22,"y":1.11},{"x":-2.14,"y":1.26},{"x":-2.20,"y":1.40},
{"x":2.36,"y":-1.13},{"x":2.28,"y":-0.98},{"x":2.39,"y":-0.84},{"x":2.31,"y":-0.70},{"x":2.26,"y":-0.53},{"x":2.37,"y":-0.40},{"x":2.33,"y":-0.24},{"x":2.29,"y":-0.11},{"x":2.38,"y":0.04},{"x":2.27,"y":0.19},{"x":2.34,"y":0.33},{"x":2.30,"y":0.48},{"x":2.39,"y":0.63},{"x":2.32,"y":0.77},{"x":2.26,"y":0.92},{"x":2.35,"y":1.07},
{"x":-2.29,"y":-1.10},{"x":-2.37,"y":-0.96},{"x":-2.32,"y":-0.81},{"x":-2.26,"y":-0.66},{"x":-2.38,"y":-0.52},{"x":-2.31,"y":-0.37},{"x":-2.35,"y":-0.21},{"x":-2.27,"y":-0.08},{"x":-2.39,"y":0.07},{"x":-2.33,"y":0.22},{"x":-2.30,"y":0.36},{"x":-2.36,"y":0.51},{"x":-2.28,"y":0.66},{"x":-2.34,"y":0.80},{"x":-2.38,"y":0.95},{"x":-2.25,"y":1.12},
{"x":2.51,"y":-0.77},{"x":2.43,"y":-0.62},{"x":2.54,"y":-0.47},{"x":2.46,"y":-0.33},{"x":2.41,"y":-0.17},{"x":2.52,"y":-0.03},{"x":2.48,"y":0.12},{"x":2.44,"y":0.27},{"x":2.53,"y":0.41},{"x":2.42,"y":0.56},{"x":2.49,"y":0.72},
{"x":-2.44,"y":-0.79},{"x":-2.52,"y":-0.63},{"x":-2.47,"y":-0.49},{"x":-2.41,"y":-0.35},{"x":-2.53,"y":-0.18},{"x":-2.46,"y":-0.05},{"x":-2.50,"y":0.10},{"x":-2.42,"y":0.25},{"x":-2.54,"y":0.40},{"x":-2.48,"y":0.54},{"x":-2.45,"y":0.70}
]},
"mark": {"type": "point", "shape": "cross", "filled": true, "size": 16, "color": "blue", "opacity": 0.7}
},
{
"data": {"values": [{"x": 10, "y": 10}]},
"mark": {"type": "point", "shape": "circle", "filled": true, "size": 4356, "fill": "green", "fillOpacity": 0.7, "stroke": "green", "strokeOpacity": 0.7, "strokeWidth": 1.5}
},
{
"data": {"values": [{"x": 0, "y": 0}, {"x": 10, "y": 10}]},
"mark": {"type": "line", "color": "black", "strokeWidth": 1.6},
"encoding": {}
},
{
"data": {"values": [{"x": 0, "y": 0}]},
"mark": {"type": "point", "shape": "M-1,-1L1,1M1,-1L-1,1", "filled": false, "size": 64, "stroke": "red", "strokeWidth": 2, "opacity": 1}
}
]
}
